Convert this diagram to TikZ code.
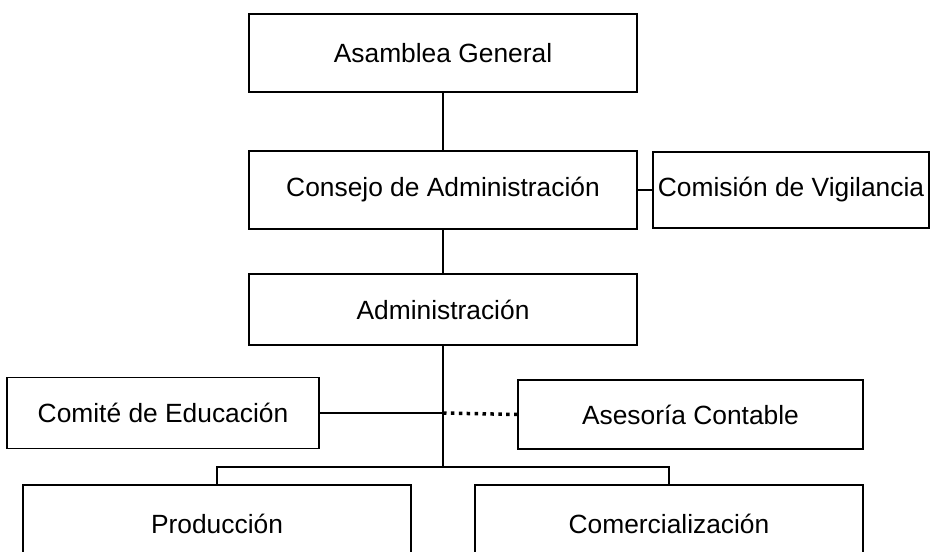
\documentclass[tikz,border=0pt]{standalone}
\usepackage{fontspec}
\setmainfont{Liberation Sans}
\usetikzlibrary{positioning,calc}

\begin{document}
\begin{tikzpicture}[
        box/.style={draw,rectangle,line width=1.1pt,inner sep=2pt,outer sep=0pt,align=center,font=\fontsize{15}{18}\selectfont},
        link/.style={line width=0.6pt},
        dots/.style={line width=0.07cm,dash pattern=on 0.07cm off 0.088cm}
    ]
    \useasboundingbox (0,0) rectangle (18.62,-11.02);

    \node[box,minimum width=7.76cm,minimum height=1.56cm] at (8.86,-1.06) (asamblea) {Asamblea General};
    \node[box,minimum width=7.76cm,minimum height=1.56cm,below=1.18cm of asamblea] (consejo) {Consejo de Administración};
    \node[box,minimum width=5.52cm,minimum height=1.52cm,right=0.32cm of consejo] (comision) {Comisión de Vigilancia};
    \node[box,minimum width=7.76cm,minimum height=1.42cm,below=0.9cm of consejo] (admin) {Administración};

    \node[box,minimum width=6.24cm,minimum height=1.42cm] at ($(admin)+(-5.6cm,-2.07cm)$) (comite) {Comité de Educación};
    \node[box,minimum width=6.9cm,minimum height=1.38cm] at ($(admin)+(4.95cm,-2.1cm)$) (asesoria) {Asesoría Contable};

    \node[box,minimum width=7.76cm,minimum height=1.56cm] at ($(admin)+(-4.52cm,-4.29cm)$) (produccion) {Producción};
    \node[box,minimum width=7.76cm,minimum height=1.56cm] at ($(admin)+(4.52cm,-4.29cm)$) (comercial) {Comercialización};

    \coordinate (junc) at (comite.east -| admin.south);
    \coordinate (split) at ($(admin)+(0,-3.15cm)$);

    \draw[link] (asamblea) -- (consejo);
    \draw[link] (consejo) -- (admin);
    \draw[link] (consejo.east) -- (comision.west);
    \draw[link] (admin.south) -- (split);
    \draw[link] (comite.east) -- (junc);
    \draw[dots] (junc) -- (asesoria.west);
    \draw[link] (split) -| (produccion.north);
    \draw[link] (split) -| (comercial.north);
\end{tikzpicture}
\end{document}
